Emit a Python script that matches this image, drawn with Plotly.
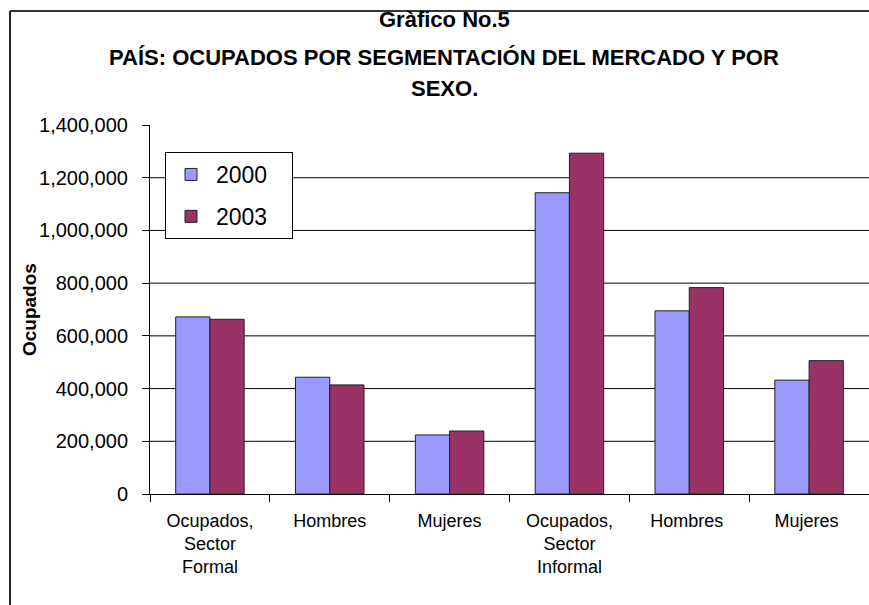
import plotly.graph_objects as go

categories = ["Ocupados,<br>Sector<br>Formal", "Hombres", "Mujeres",
              "Ocupados,<br>Sector<br>Informal", "Hombres ", "Mujeres "]
series_names = ["2000", "2003"]
values_2000 = [672000, 443000, 224000, 1143000, 695000, 432000]
values_2003 = [663000, 414000, 239000, 1293000, 783000, 506000]
y_ticks = [0, 200000, 400000, 600000, 800000, 1000000, 1200000, 1400000]
title_lines = ["Gràfico No.5",
               "PAÍS: OCUPADOS POR SEGMENTACIÓN DEL MERCADO Y POR",
               "SEXO."]
y_title = "Ocupados"

colors = ["#9999FF", "#993366"]
W, H = 869, 605
L, R, T, B = 150, 0, 125, 111
pw, ph = W - L - R, H - T - B

def px_x(sx):
    return (sx - L) / pw

def px_y(sy):
    return (H - B - sy) / ph

fig = go.Figure()
for name, vals, col in zip(series_names, [values_2000, values_2003], colors):
    fig.add_trace(go.Bar(
        x=categories, y=vals, name=name + "\u00a0\u00a0\u00a0",
        marker=dict(color=col, line=dict(color="#222222", width=1)),
        legendgroup=name,
    ))

# horizontal gridlines at tick values (excluding axis baseline and top edge)
for v in y_ticks[1:-1]:
    fig.add_shape(type="line", xref="paper", x0=0, x1=1, yref="y", y0=v, y1=v,
                  line=dict(color="black", width=1), layer="below")

# chart frame (left and top edges visible)
fig.add_shape(type="line", xref="paper", yref="paper",
              x0=px_x(10), x1=px_x(10), y0=px_y(H + 20), y1=px_y(11),
              line=dict(color="#222222", width=2))
fig.add_shape(type="line", xref="paper", yref="paper",
              x0=px_x(10), x1=px_x(W + 20), y0=px_y(11), y1=px_y(11),
              line=dict(color="#333333", width=2))

title_font = dict(family="Liberation Sans, Arial", size=22, color="black")
for txt, yy in zip(title_lines, [20, 57, 89]):
    fig.add_annotation(text="<b>" + txt + "</b>", xref="paper", yref="paper",
                       x=px_x(444), y=px_y(yy), showarrow=False,
                       xanchor="center", yanchor="middle", font=title_font)

fig.add_annotation(text="<b>" + y_title + "</b>", xref="paper", yref="paper",
                   x=px_x(29), y=px_y(310), showarrow=False, textangle=-90,
                   xanchor="center", yanchor="middle",
                   font=dict(family="Liberation Sans, Arial", size=19, color="black"))

fig.update_layout(
    width=W, height=H,
    margin=dict(l=L, r=R, t=T, b=B, pad=0),
    paper_bgcolor="white", plot_bgcolor="white",
    barmode="group", bargap=0.4286, bargroupgap=0,
    font=dict(family="Liberation Sans, Arial", color="black"),
    legend=dict(x=px_x(165), y=px_y(152), xanchor="left", yanchor="top",
                bgcolor="white", bordercolor="black", borderwidth=1,
                font=dict(size=23, family="Liberation Sans, Arial"),
                tracegroupgap=9, itemwidth=40),
    xaxis=dict(type="category", showline=True, linecolor="black", linewidth=1,
               ticks="outside", tickson="boundaries", ticklen=7, tickcolor="black",
               showgrid=False, ticklabelstandoff=10,
               tickfont=dict(family="Liberation Sans, Arial", size=18, color="black")),
    yaxis=dict(range=[0, 1400000], tickvals=y_ticks, tickformat=",",
               showline=True, linecolor="black", linewidth=1,
               ticks="outside", ticklen=7, tickcolor="black",
               showgrid=False, zeroline=False, ticklabelstandoff=10,
               tickfont=dict(size=20, color="black")),
    showlegend=True,
)

fig.write_html("out.html",
               config={"displayModeBar": False},
               post_script="document.body.style.margin='0';"
                           "document.body.style.overflow='hidden';")
